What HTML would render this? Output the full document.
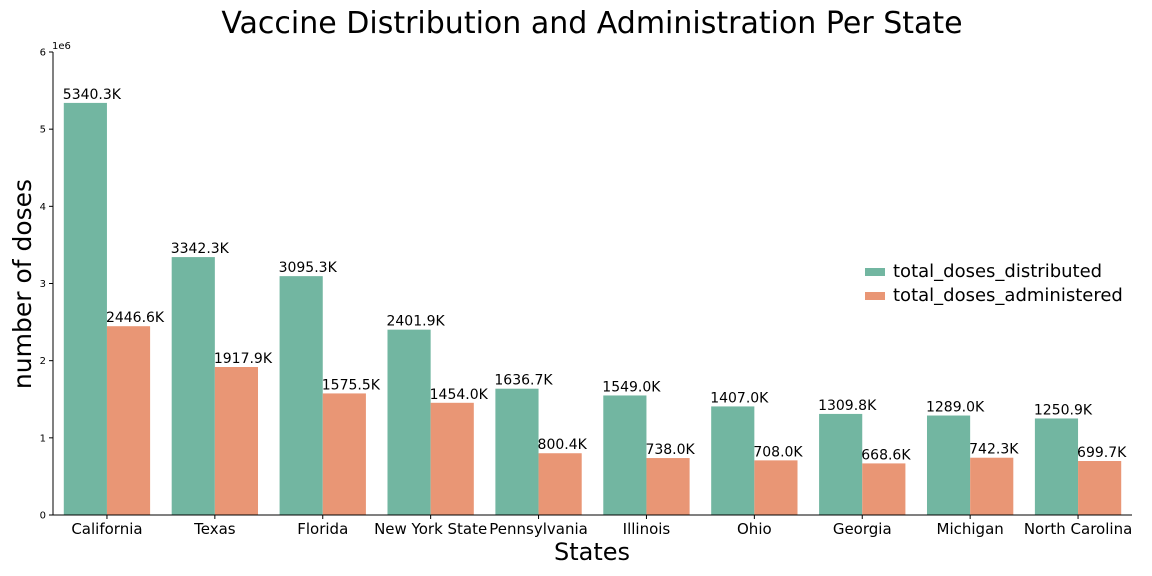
<!DOCTYPE html>
<html><head><meta charset="utf-8"><style>
body{margin:0;background:#fff;}
svg{display:block;font-family:"DejaVu Sans","Liberation Sans",sans-serif;}
</style></head><body>
<svg id="chart" width="1152" height="576">
<text x="592" y="33" font-size="30" text-anchor="middle">Vaccine Distribution and Administration Per State</text>
<text x="592" y="560" font-size="24" text-anchor="middle">States</text>
<text transform="translate(31,284) rotate(-90)" font-size="25" text-anchor="middle">number of doses</text>
<text x="52" y="49" font-size="10">1e6</text>
<g id="bars"></g>
<g id="axes"></g>
<g>
<rect x="865" y="268" width="20" height="8" fill="#72b6a1"></rect>
<text x="893" y="277" font-size="18">total_doses_distributed</text>
<rect x="865" y="292" width="20" height="8" fill="#e99675"></rect>
<text x="893" y="301" font-size="18">total_doses_administered</text>
</g>
</svg>
<script>
const categories=["California","Texas","Florida","New York State","Pennsylvania","Illinois","Ohio","Georgia","Michigan","North Carolina"];
const distributed=[5340.3,3342.3,3095.3,2401.9,1636.7,1549.0,1407.0,1309.8,1289.0,1250.9];
const administered=[2446.6,1917.9,1575.5,1454.0,800.4,738.0,708.0,668.6,742.3,699.7];
const yTicks=[0,1,2,3,4,5,6];
const NS="http://www.w3.org/2000/svg";
const X0=53,X1=1132,Y0=515,Y6=52;
const band=(X1-X0)/categories.length;
const xC=i=>X0+band*(i+0.5);
const y=v=>Y0-(v/6e6)*(Y0-Y6);
function mk(t,a,p){const e=document.createElementNS(NS,t);for(const k in a)e.setAttribute(k,a[k]);(p||document.getElementById('bars')).appendChild(e);return e;}
const bw=band*0.4;
categories.forEach((c,i)=>{
  [[distributed,"#72b6a1",-1,"distributed"],[administered,"#e99675",0,"administered"]].forEach(([arr,col,off,nm])=>{
    const v=arr[i]*1000,x=xC(i)+off*bw;
    const r=mk('rect',{x:x,y:y(v),width:bw,height:Y0-y(v),fill:col});
    
    
    const t=mk('text',{x:x-1,y:y(v)-4,'font-size':14});
    t.textContent=arr[i].toFixed(1)+'K';
    
    
  });
  const ax=document.getElementById('axes');
  mk('line',{x1:xC(i),x2:xC(i),y1:Y0,y2:Y0+4,stroke:'#000'},ax);
  const lt=mk('text',{x:xC(i),y:534,'font-size':15,'text-anchor':'middle'},ax);
  lt.textContent=c;
  
  
});
const ax=document.getElementById('axes');
yTicks.forEach(t=>{
  const yy=y(t*1e6);
  mk('line',{x1:X0-4,x2:X0,y1:yy,y2:yy,stroke:'#000'},ax);
  const tl=mk('text',{x:X0-7,y:yy+3.5,'font-size':10,'text-anchor':'end'},ax);
  tl.textContent=t;
  
  
});
const ya=mk('line',{x1:X0,x2:X0,y1:Y6,y2:Y0,stroke:'#000'},ax);


const xa=mk('line',{x1:X0,x2:X1,y1:Y0,y2:Y0,stroke:'#000'},ax);


</script>
</body></html>
